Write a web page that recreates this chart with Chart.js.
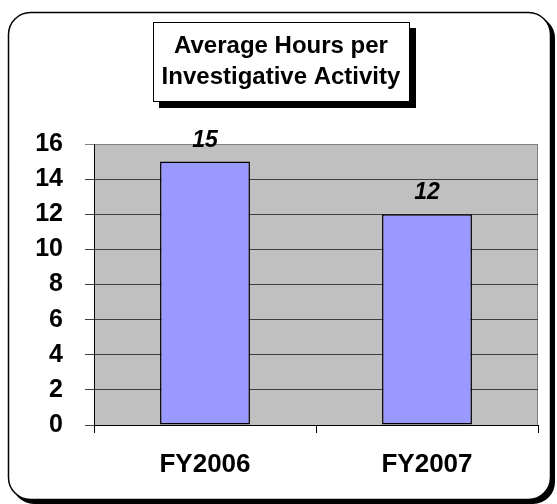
<!DOCTYPE html>
<html lang="en">

<head>
    <meta charset="UTF-8">
    <title>Average Hours per Investigative Activity</title>
    <script src="https://cdn.jsdelivr.net/npm/chart.js@4.4.1/dist/chart.umd.min.js"></script>
    <style>
        * {
            margin: 0;
            padding: 0;
            box-sizing: border-box;
        }

        body {
            background: #fff;
            width: 557px;
            height: 504px;
            overflow: hidden;
        }

        #chart {
            display: block;
        }
    </style>
</head>

<body>
    <canvas id="chart" width="557" height="504"></canvas>
    <script>
        // Chart data
        const categories = ["FY2006", "FY2007"];
        const avgHours = [15, 12];
        const titleLines = ["Average Hours per", "Investigative Activity"];
        const yMin = 0, yMax = 16, yStep = 2;

        const FONT = "'Liberation Sans', Arial, sans-serif";

        // Rounded frame, title box and grey plot area
        const framePlugin = {
            id: "frame",
            beforeDraw(chart) {
                const ctx = chart.ctx;
                const area = chart.chartArea;
                ctx.save();

                // outer rounded frame with a black shadow
                ctx.fillStyle = "#000";
                ctx.beginPath();
                ctx.roundRect(12, 16, 543, 488, 22);
                ctx.fill();
                ctx.fillStyle = "#fff";
                ctx.strokeStyle = "#000";
                ctx.lineWidth = 1.5;
                ctx.beginPath();
                ctx.roundRect(8.5, 12.5, 542, 487, 22);
                ctx.fill();
                ctx.stroke();

                // title box with drop shadow
                ctx.fillStyle = "#000";
                ctx.fillRect(159, 28, 257, 80);
                ctx.fillStyle = "#fff";
                ctx.fillRect(153, 22, 257, 80);
                ctx.strokeStyle = "#000";
                ctx.lineWidth = 1;
                ctx.strokeRect(153.5, 22.5, 256, 79);

                ctx.fillStyle = "#000";
                ctx.font = "bold 24px " + FONT;
                ctx.textAlign = "center";
                ctx.textBaseline = "alphabetic";
                ctx.fillText(titleLines[0], 281, 53);
                ctx.fillText(titleLines[1], 281, 84);

                // plot area
                ctx.fillStyle = "#c0c0c0";
                ctx.fillRect(area.left, area.top, area.right - area.left, area.bottom - area.top);
                ctx.strokeStyle = "#808080";
                ctx.beginPath();
                ctx.moveTo(area.right - 0.5, area.top);
                ctx.lineTo(area.right - 0.5, area.bottom);
                ctx.stroke();
                ctx.restore();
            }
        };

        // Italic value above each bar
        const valueLabels = {
            id: "valueLabels",
            afterDatasetsDraw(chart) {
                const ctx = chart.ctx;
                const meta = chart.getDatasetMeta(0);
                ctx.save();
                ctx.fillStyle = "#000";
                ctx.font = "italic bold 23px " + FONT;
                ctx.textAlign = "center";
                ctx.textBaseline = "alphabetic";
                meta.data.forEach((bar, i) => {
                    ctx.fillText(avgHours[i], bar.x, bar.y - 15);
                });
                ctx.restore();
            }
        };

        new Chart(document.getElementById("chart"), {
            type: "bar",
            plugins: [framePlugin, valueLabels],
            data: {
                labels: categories,
                datasets: [{
                    data: avgHours,
                    backgroundColor: "#9999ff",
                    borderColor: "#000",
                    borderWidth: 1.5,
                    borderSkipped: false,
                    barPercentage: 0.405,
                    categoryPercentage: 1
                }]
            },
            options: {
                responsive: false,
                animation: false,
                devicePixelRatio: 1,
                layout: { padding: { top: 144, left: 0, right: 19, bottom: 0 } },
                plugins: {
                    legend: { display: false },
                    title: { display: false },
                    tooltip: { enabled: false }
                },
                scales: {
                    x: {
                        afterFit: (scale) => { scale.height = 79; },
                        grid: {
                            drawOnChartArea: false,
                            tickLength: 8,
                            color: "#000"
                        },
                        border: { color: "#000", width: 1 },
                        ticks: {
                            color: "#000",
                            padding: 16,
                            font: { family: FONT, size: 26, weight: "bold" }
                        }
                    },
                    y: {
                        min: yMin,
                        max: yMax,
                        afterFit: (scale) => { scale.width = 94; },
                        grid: {
                            tickLength: 9,
                            color: (c) => c.tick && c.tick.value === yMax ? "#808080" : "#404040"
                        },
                        border: { color: "#000", width: 1 },
                        ticks: {
                            stepSize: yStep,
                            color: "#000",
                            padding: 22,
                            font: { family: FONT, size: 25, weight: "bold" }
                        }
                    }
                }
            }
        });
    </script>
</body>

</html>
